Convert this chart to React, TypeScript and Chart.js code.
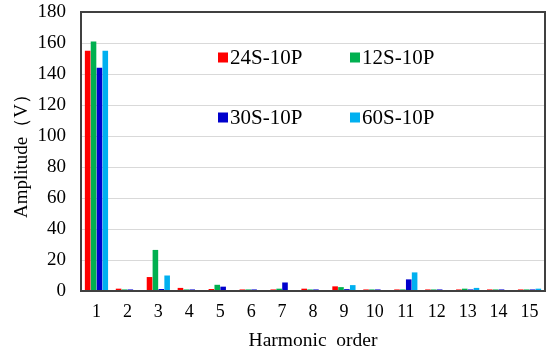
import React, { useEffect, useRef } from "react";
import { Chart, registerables } from "chart.js";

Chart.register(...registerables);

const categories = ["1", "2", "3", "4", "5", "6", "7", "8", "9", "10", "11", "12", "13", "14", "15"];
const s24S10P = [155, 1.5, 9, 2, 1.3, 1, 1, 1.5, 3, 1, 1, 1, 1, 1, 1];
const s12S10P = [161, 1, 26.5, 1, 4, 1, 1.5, 1, 2.5, 1, 1, 1, 1.5, 1, 1];
const s30S10P = [144, 1, 1.3, 1, 2.8, 1, 5.5, 1, 1.2, 1, 7.5, 1, 1, 1, 1];
const s60S10P = [155, 0, 10, 0, 0, 0, 0, 0, 3.8, 0, 12, 0, 2, 0, 1.5];
const seriesNames = ["24S-10P", "12S-10P", "30S-10P", "60S-10P"];
const seriesColors = ["#ff0000", "#00b050", "#0000cc", "#00b0f0"];
const yTicks = [0, 20, 40, 60, 80, 100, 120, 140, 160, 180];

const FONT = "'Liberation Serif', 'Times New Roman', serif";

const frameAndLegend = {
  id: "frameAndLegend",
  afterDraw(chart: any) {
    const { ctx, chartArea } = chart;
    const { left, top, right, bottom } = chartArea;
    ctx.save();
    ctx.strokeStyle = "#404040";
    ctx.lineWidth = 2;
    ctx.strokeRect(left, top, right - left, bottom - top);
    const items = [
      { i: 0, x: 218, y: 57.5 },
      { i: 1, x: 350, y: 57.5 },
      { i: 2, x: 218, y: 117.5 },
      { i: 3, x: 350, y: 117.5 },
    ];
    ctx.font = `21px ${FONT}`;
    ctx.textBaseline = "middle";
    ctx.textAlign = "left";
    for (const it of items) {
      ctx.fillStyle = seriesColors[it.i];
      ctx.fillRect(it.x, it.y - 5, 10, 10);
      ctx.fillStyle = "#000";
      ctx.fillText(seriesNames[it.i], it.x + 12, it.y + 1);
    }
    ctx.restore();
  },
};

export default function App() {
  const ref = useRef<HTMLCanvasElement>(null);
  useEffect(() => {
    document.body.style.margin = "0";
    const data = [s24S10P, s12S10P, s30S10P, s60S10P];
    const chart = new Chart(ref.current!, {
      type: "bar",
      data: {
        labels: categories,
        datasets: data.map((d, i) => ({
          label: seriesNames[i],
          data: d,
          backgroundColor: seriesColors[i],
          borderWidth: 0,
          barPercentage: 0.95,
          categoryPercentage: 0.76,
        })),
      },
      options: {
        animation: false,
        responsive: false,
        maintainAspectRatio: false,
        layout: { padding: { top: 12, right: 10, left: 0, bottom: 0 } },
        plugins: { legend: { display: false }, tooltip: { enabled: false } },
        scales: {
          x: {
            grid: { display: false, drawTicks: false },
            border: { display: false },
            ticks: { color: "#000", font: { family: FONT, size: 18 }, padding: 10, maxRotation: 0 },
            title: {
              display: true,
              text: "Harmonic  order",
              color: "#000",
              font: { family: FONT, size: 19.5 },
              padding: { top: 0, bottom: 1 },
            },
            afterFit: (s: any) => {
              s.height = 63;
              s.paddingLeft = 0;
              s.paddingRight = 0;
            },
          },
          y: {
            min: 0,
            max: 180,
            afterBuildTicks: (s: any) => {
              s.ticks = yTicks.map((v) => ({ value: v }));
            },
            grid: { color: "#d9d9d9", lineWidth: 1, drawTicks: false },
            border: { display: false },
            ticks: { color: "#000", font: { family: FONT, size: 19 }, padding: 15 },
            title: {
              display: true,
              text: "Amplitude（V）",
              color: "#000",
              font: { family: FONT, size: 19 },
              padding: { top: 11, bottom: 0 },
            },
            afterFit: (s: any) => {
              s.width = 81;
              s.paddingTop = 0;
              s.paddingBottom = 0;
            },
          },
        },
      },
      plugins: [frameAndLegend],
    });
    return () => chart.destroy();
  }, []);
  return (
    <div style={{ width: 555, height: 354 }}>
      <canvas ref={ref} width={555} height={354} style={{ display: "block" }} />
    </div>
  );
}
